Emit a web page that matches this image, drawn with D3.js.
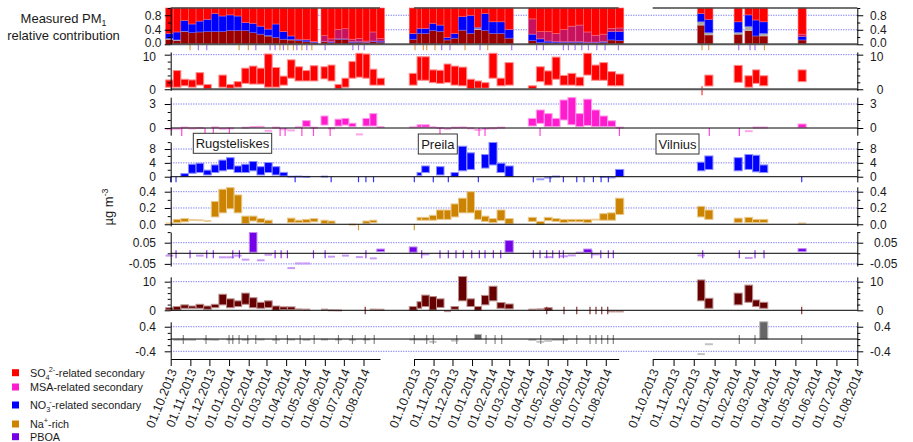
<!DOCTYPE html>
<html>
<head>
<meta charset="utf-8">
<script src="https://cdn.jsdelivr.net/npm/d3@7/dist/d3.min.js"></script>
<style>
  html, body { margin: 0; padding: 0; background: #fff; }
  svg { display: block; }
  text { font-family: "Liberation Sans", Arial, Helvetica, sans-serif; fill: #1a1a1a; }
</style>
</head>
<body>
<svg id="chart" width="913" height="442"></svg>
<script>
// ------------------------------------------------------------------
// Data: sampling periods (start, days since 1 Oct 2013) and the
// lower / upper value of every factor in each period, per station.
// ------------------------------------------------------------------
const stationNames = ["Rugsteliskes", "Preila", "Vilnius"];

const rugDay = [-8, 4, 16, 28, 40, 52, 64, 76, 88, 100, 112, 124, 136, 148, 160, 172, 184, 196, 208, 220, 237, 248, 259, 270, 281, 292, 303, 314, 325];
const preDay = [-7.5, 4.8, 12.2, 24.3, 35.7, 47.6, 58.7, 70.6, 84, 95.9, 107, 118.9, 131.6, 144.3, 181.3, 194, 206.5, 219, 231.5, 244, 256.5, 269, 281.5, 294.5, 307, 319.5];
const vilDay = [66.5, 77.5, 121, 137, 148.5, 159, 216];

// relative contribution to measured PM1 (SO4-related secondary fills the rest)
const rugTopBrown = [0.14,0.10,0.35,0.32,0.34,0.35,0.35,0.35,0.38,0.38,0.38,0.32,0.28,0.23,0.19,0.14,0.12,0.10,0.07,0.05,0.07,0.05,0.14,0.14,0.05,0.06,0.05,0.07,0.06];
const rugTopGray  = [0.02,0.02,0.01,0,0,0,0,0,0,0,0,0,0,0.01,0,0,0.01,0,0,0,0,0,0,0,0,0,0,0,0];
const rugTopNO3   = [0.14,0.22,0.30,0.24,0.30,0.34,0.50,0.43,0.43,0.40,0.22,0.26,0.22,0.18,0.37,0.21,0.10,0.04,0.05,0.02,0.01,0.02,0.01,0.01,0.02,0.02,0.01,0.02,0.03];
const rugTopMSA   = [0,0,0,0,0,0,0,0,0,0,0,0,0,0,0,0,0,0,0.01,0.01,0.16,0.08,0.26,0.28,0.07,0.08,0.03,0.25,0.07];

const preTopBrown = [0.14,0.30,0.30,0.38,0.36,0.12,0.17,0.39,0.30,0.41,0.38,0.30,0.30,0.17,0.10,0.05,0.04,0.04,0.05,0.05,0.05,0.04,0.04,0.05,0.12,0.10];
const preTopGray  = [0,0,0,0,0,0,0,0,0,0.03,0,0,0,0,0,0,0,0,0,0,0,0,0,0,0,0];
const preTopNO3   = [0.16,0.14,0.14,0.20,0.17,0.07,0.13,0.37,0.50,0.03,0.47,0.32,0.32,0.24,0.18,0.10,0.05,0.03,0.02,0.02,0.02,0.02,0.02,0.03,0.23,0.25];
const preTopMSA   = [0,0,0,0,0,0,0,0,0,0,0,0,0,0,0.42,0.20,0.26,0.23,0.34,0.43,0.46,0.28,0.19,0.20,0.09,0.10];

const vilTopBrown = [0.53,0.26,0.28,0.38,0.23,0.23,0.12];
const vilTopGray  = [0.09,0.06,0.05,0.11,0,0.07,0];
const vilTopNO3   = [0.23,0.37,0.29,0.32,0.44,0.32,0.09];
const vilTopMSA   = [0,0,0,0,0,0,0.07];

// concentration ranges [low, high] in ug m-3
const rugSO4 = [[0.6,2.7],[0.6,5.4],[1.0,2.9],[0.6,2.7],[1.2,4.8],[0.0,1.4],null,[0.6,4.1],[0.3,1.4],[0.6,2.2],[1.7,6.1],[1.5,6.7],[1.5,6.1],[0.6,10.2],[0.6,6.3],[1.2,3.8],[3.2,8.5],[2.4,6.5],[2.4,5.4],[2.4,6.8],[3.0,6.5],[2.4,7.0],[0.0,1.4],[0.6,3.2],[3.2,8.0],[3.5,10.4],[3.2,10.2],[1.2,5.8],[1.2,3.2]];
const rugMSA = [[-0.2,-0.1],[-0.15,-0.05],[0,0.1],[-0.1,0],[-0.05,0.05],null,[0,0.15],[-0.15,-0.05],[-0.1,0],null,[0,0.08],[0.05,0.2],[0.05,0.25],[-0.4,-0.3],[0,0.1],[-0.2,-0.1],[-0.35,-0.25],[0.05,0.15],[0.17,0.92],[0,0.08],[0.37,1.5],[-0.1,0],[0.25,1.1],[0.37,1.2],[0.17,0.6],[-0.85,-0.75],[0.25,1.2],[0.25,1.8],[0.05,0.2]];
const rugNO3 = [null,null,[0.05,0.9],[1.0,3.6],[1.2,3.9],[0.5,1.9],[1.2,3.4],[1.7,4.8],[2.1,5.5],[1.2,3.1],[1.2,3.6],[1.7,4.4],[0.5,2.9],[1.2,4.1],[0.5,2.9],[0.2,1.25],[-0.05,0.05],[0,0.1],[-0.1,0],null,[0,0.05],null,null,null,null,null,null,null,null];
const rugNa = [[0,0.02],[0.02,0.06],[0.03,0.07],[0.04,0.065],[0.04,0.06],[0.03,0.05],[0.09,0.28],[0.14,0.43],[0.19,0.45],[0.14,0.36],[0.01,0.1],[0.04,0.1],[0.02,0.07],[0.01,0.05],null,null,[0.02,0.075],[0.02,0.05],[0.02,0.06],[0.03,0.07],[0.01,0.05],[0.01,0.04],null,null,[-0.01,0],null,[0.01,0.04],[0.02,0.05],null];
const rugPBOA = [[-0.013,-0.009],null,null,null,[-0.013,-0.009],null,null,[-0.021,-0.017],[-0.021,-0.017],[-0.013,-0.009],[-0.032,-0.028],[0.005,0.098],[-0.035,-0.031],[-0.009,-0.005],null,null,[-0.072,-0.068],[-0.05,-0.046],[-0.05,-0.046],null,null,[-0.018,-0.014],null,[-0.013,-0.009],null,[-0.02,-0.016],null,[-0.026,-0.022],[0.008,0.02]];
const rugBrown = [[0.1,0.9],[0.1,1.3],[0.7,1.9],[0.7,1.5],[0.7,2.1],[0.35,1.5],[0.9,2.1],[1.9,5.6],[0.9,4.0],[1.3,3.3],[2.1,6.0],[0.9,4.4],[0.7,2.8],[0.9,3.3],[0,1.5],[0.2,1.2],[0.2,1.2],[0,0.7],[0,0.5],null,[0,0.5],[-0.1,0.1],[-0.1,0],null,null,null,null,[0,0.5],[0,0.4]];
const rugGray = [null,[-0.04,-0.02],[-0.04,-0.02],[-0.04,-0.02],null,[-0.03,-0.01],[-0.04,-0.02],null,[-0.03,-0.01],null,[-0.04,-0.02],null,[-0.03,-0.01],null,[-0.04,-0.02],null,[-0.03,-0.01],null,[-0.04,-0.02],null,[-0.03,-0.01],null,[-0.03,-0.01],null,[-0.04,-0.02],null,[-0.03,-0.01],null,null];

const preSO4 = [[1.2,4.6],[2.6,9.4],[2.6,9.4],[1.9,5.6],[1.7,5.5],[1.9,7.3],[1.2,6.7],[1.0,6.4],[0,2.9],[0.3,2.4],[0.3,1.9],[3.2,10.4],[1.0,3.2],[1.2,7.7],[0,1.0],[2.2,6.5],[1.2,5.3],[2.9,9.3],[1.2,4.0],[1.2,4.6],[1.0,3.5],[4.1,10.4],[2.6,7.0],[2.6,7.7],[1.0,5.1],[1.0,4.4]];
const preMSA = [[0,0.2],[0.1,0.4],[0.1,0.4],[0,0.2],[-0.05,0.05],[-0.15,-0.05],[0,0.1],[0,0.15],[-0.1,0],[-0.3,-0.2],[-0.15,-0.05],[-0.1,0],[0,0.1],null,[0.25,1.2],[0.58,2.25],[0.17,1.8],[0.17,1.2],[1.0,3.5],[0.4,3.8],[0.17,1.8],[0.3,3.6],[0.17,2.25],[0.17,1.5],[0.17,0.9],[0,0.1]];
const preNO3 = [null,[0.3,1.2],[1.2,3.1],null,[0.5,2.9],null,[0.05,1.2],[1.7,8.8],[2.1,6.9],null,[2.5,6.4],[3.4,9.9],[1.2,3.9],[0.05,3.1],null,[-0.8,-0.7],[-0.3,-0.2],[0,0.1],null,null,null,null,null,[-0.15,0],[-0.3,-0.1],[0.05,2.1]];
const preNa = [null,[0.05,0.085],[0.05,0.085],[0.05,0.11],[0.06,0.175],[0.06,0.175],[0.09,0.25],[0.14,0.32],[0.14,0.4],[0.06,0.175],[0.035,0.1],[0.02,0.07],[0.045,0.175],[0.005,0.07],[0.035,0.085],[0,0.035],[0.045,0.085],[0.035,0.07],[0.02,0.06],[0.03,0.06],[0.03,0.06],[0.02,0.06],[0.045,0.07],[0.05,0.13],[0.05,0.14],[0.12,0.32]];
const prePBOA = [[0.005,0.03],null,[-0.007,-0.003],null,null,null,null,null,null,null,null,null,null,[0.005,0.06],null,null,[-0.02,-0.016],null,[-0.016,-0.012],[-0.012,-0.008],[0,0.006],[0.004,0.02],[-0.007,-0.003],null,null,null];
const preBrown = [[0,1.3],[0.7,3.0],[1.3,5.3],[0.1,4.8],[1.0,4.0],[-0.4,-0.2],[0.35,1.3],[3.3,11.8],[1.3,4.0],[0,1.3],[1.9,5.2],[3.3,8.4],[0.7,2.7],[0.5,2.2],[0,0.5],[0,0.7],[0,0.9],null,null,null,null,null,null,null,[-0.5,-0.3],[-0.5,-0.3]];
const preGray = [[-0.03,-0.01],[-0.03,-0.01],[-0.03,-0.01],[-0.1,-0.08],null,null,[-0.06,-0.04],null,null,[0,0.15],null,null,null,null,[-0.04,-0.02],[-0.1,-0.08],[-0.07,-0.05],[-0.04,-0.02],[-0.04,-0.02],null,null,null,null,null,null,null];

const vilSO4 = [null,[0.95,4.1],[2.0,6.9],[0.6,3.9],[1.7,5.6],[1.0,3.9],[2.2,5.6]];
const vilMSA = [null,null,null,[-0.45,-0.35],[0,0.12],[0,0.12],[0.05,0.5]];
const vilNO3 = [[1.7,4.2],[2.1,6.0],[1.7,5.5],[2.1,6.4],[1.4,6.2],[1.2,3.4],null];
const vilNa = [[0.09,0.22],[0.06,0.175],[0.02,0.075],[0.02,0.085],[0.02,0.06],[0.02,0.06],[0,0.02]];
const vilPBOA = [[-0.012,-0.008],null,null,[-0.024,-0.02],null,null,[0.008,0.022]];
const vilBrown = [[3.3,10.6],[0.7,4.2],[1.9,6.0],[2.8,8.8],[1.3,3.6],[0.7,2.8],null];
const vilGray = [[-0.5,-0.48],[-0.18,-0.16],null,null,null,[0,0.56],null];

// single-sample markers (days since 1 Oct 2013)
const rugMarkTopNa   = [30.5, 107.8, 122.4, 172.2, 184.7, 193.5, 206.8, 222.5];
const rugMarkTopPBOA = [43.6, 56.8, 134.2, 156.7, 164.6, 177.7, 198.9, 214.6, 243.5, 287.2, 296.1, 305.1];
const rugMarkMSA   = [17.4, 54.1, 67.2, 92.5, 172.5, 180.4, 206.8, 225.1, 251.4];
const rugMarkNO3   = [0, 8.4, 196.2, 253, 296.1, 307.8, 319.8];
const rugMarkNa    = [296.1];
const rugMarkPBOA  = [8.4, 30.5, 56.8, 67.2, 97.9, 108.3, 164.6, 174.1, 184, 225.1, 243.5, 307.8];
const rugMarkBrown = [306.7];
const rugMarkGray  = [19.9, 55.7, 92, 97.9, 107.8, 121.5, 134.2, 166.2, 184, 204.1, 226.2, 264.5, 286.6, 306.7, 320.9];

const preMarkTopNa   = [1.6, 14.8, 20.2, 33.3, 80.9, 116.9];
const preMarkTopPBOA = [43.9, 57.1, 104.7, 154.9, 194.5, 205.1, 236.8, 244.8, 255.4, 266, 276.5, 289.8, 302.9, 324];
const preMarkMSA   = [41.2, 103.1, 112.6, 199.8, 325.6];
const preMarkNO3   = [0.5, 30.6, 54.4, 102, 189.2, 215.7, 236.8, 258, 269.6, 284.4, 296.6, 308.1];
const preMarkNa    = [0.5];
const preMarkPBOA  = [12.2, 41.2, 54.4, 66.6, 78.2, 91.5, 103.6, 112.6, 125.8, 137.5, 189.2, 199.8, 210.4, 219.9, 230.4, 236.8, 281.8, 296.1, 308.1, 316];
const preMarkBrown = [210.4, 237.8, 258, 279, 288.5, 297.6, 307.1];
const preMarkGray  = [0.5, 20.1, 30.6, 67.7, 114.2, 128.5, 139.1, 200.9, 236.8, 258, 279.1, 288.5, 297.6, 307.1, 316];

const vilMarkTopNa   = [73.3, 83.2, 166];
const vilMarkTopPBOA = [127.8, 144.6, 152];
const vilMarkSO4   = [73.3];
const vilMarkMSA   = [84.1, 128.7];
const vilMarkNO3   = [221.4];
const vilMarkPBOA  = [74.3, 128.7, 152, 165.4];
const vilMarkBrown = [221.4];
const vilMarkGray  = [128.7, 152, 221.4];

// axis ticks
const monthTicks = d3.timeMonth.range(new Date(2013, 9, 1), new Date(2014, 7, 2));
const legendLabels = [
  [["SO", ""], ["4", "sub"], ["2-", "sup"], ["-related secondary", ""]],
  [["MSA-related secondary", ""]],
  [["NO", ""], ["3", "sub"], ["-", "sup"], ["-related secondary", ""]],
  [["Na", ""], ["+", "sup"], ["-rich", ""]],
  [["PBOA", ""]]
];

// ------------------------------------------------------------------
// Layout and drawing
// ------------------------------------------------------------------
const season0 = new Date(2013, 9, 1);
const toDate = d => new Date(season0.getTime() + d * 864e5);
const svg = d3.select("#chart");
const X_LEFT = 170.7, X_RIGHT = 857.3, X_AXIS_Y = 359;
const TICK_FONT = 12;

const COLORS = { so4: "#ff0000", msa: "#ff1ccf", no3: "#0000ff", na: "#cc8400", pboa: "#7300e6", brown: "#660000", gray: "#666666" };
const TOPCOLORS = { brown: "#9a0000", gray: "#a8a8a8", no3: "#0000ff", msa: "#c8125e", so4: "#ff0000" };
const light = (c, t) => d3.interpolateRgb(c, "#ffffff")(t);

const stations = [
  { name: stationNames[0], days: rugDay, span: 12, end: new Date(2014, 7, 27), range: [X_LEFT, 380], box: [193.3, 133.3, 78.4],
    top: { brown: rugTopBrown, gray: rugTopGray, no3: rugTopNO3, msa: rugTopMSA },
    series: { so4: rugSO4, msa: rugMSA, no3: rugNO3, na: rugNa, pboa: rugPBOA, brown: rugBrown, gray: rugGray },
    marks: { topNa: rugMarkTopNa, topPBOA: rugMarkTopPBOA, msa: rugMarkMSA, no3: rugMarkNO3, na: rugMarkNa, pboa: rugMarkPBOA, brown: rugMarkBrown, gray: rugMarkGray } },
  { name: stationNames[1], days: preDay, span: 13, end: new Date(2014, 7, 21, 12), range: [414, 618.7], box: [418.3, 134, 39],
    top: { brown: preTopBrown, gray: preTopGray, no3: preTopNO3, msa: preTopMSA },
    series: { so4: preSO4, msa: preMSA, no3: preNO3, na: preNa, pboa: prePBOA, brown: preBrown, gray: preGray },
    marks: { topNa: preMarkTopNa, topPBOA: preMarkTopPBOA, msa: preMarkMSA, no3: preMarkNO3, na: preMarkNa, pboa: preMarkPBOA, brown: preMarkBrown, gray: preMarkGray } },
  { name: stationNames[2], days: vilDay, span: 12, end: new Date(2014, 7, 1), range: [652.7, X_RIGHT], box: [656, 134, 43],
    top: { brown: vilTopBrown, gray: vilTopGray, no3: vilTopNO3, msa: vilTopMSA },
    series: { so4: vilSO4, msa: vilMSA, no3: vilNO3, na: vilNa, pboa: vilPBOA, brown: vilBrown, gray: vilGray },
    marks: { topNa: vilMarkTopNa, topPBOA: vilMarkTopPBOA, so4: vilMarkSO4, msa: vilMarkMSA, no3: vilMarkNO3, pboa: vilMarkPBOA, brown: vilMarkBrown, gray: vilMarkGray } }
];
stations.forEach(st => {
  st.x = d3.scaleTime().domain([season0, st.end]).range(st.range);
  st.periods = st.days.map((d, i) => {
    const next = i < st.days.length - 1 ? st.days[i + 1] : Infinity;
    return [d, Math.min(next, d + st.span)];
  });
});

const f1 = d => d.toFixed(1), f0 = d => String(d), f2 = d => d.toFixed(2);
const panels = [
  { key: "top",   dom: [0, 1],        rng: [44.3, 8],     major: [0, 0.4, 0.8],  minor: [0.2, 0.6, 1],   grid: [0.4, 0.8],    fmt: f1, padL: 3.2, mark: [0, 6], zeroW: 2, zeroC: "#555", lift: -1.7 },
  { key: "so4",   dom: [-0.3, 10.8],  rng: [90.3, 51.9],  major: [0, 10],        minor: [2, 4, 6, 8],    grid: [10],          fmt: f0, padL: 8.7, mark: [-3, 6], zeroW: 2, zeroC: "#555", lift: 1.7 },
  { key: "msa",   dom: [-0.9, 3.85],  rng: [135.2, 97.2], major: [0, 3],         minor: [1, 2],          grid: [3],           fmt: f0, padL: 8.7, mark: [0, 8] },
  { key: "no3",   dom: [-1.5, 10],    rng: [181.9, 142.1],major: [0, 4, 8],      minor: [2, 6, 10],      grid: [4, 8],        fmt: f0, padL: 8.7, mark: [0, 5.5] },
  { key: "na",    dom: [-0.02, 0.46], rng: [225.9, 186.8],major: [0, 0.2, 0.4],  minor: [0.1, 0.3],      grid: [0.2, 0.4],    fmt: f1, padL: 8.7, mark: [0, 6] },
  { key: "pboa",  dom: [-0.06, 0.1],  rng: [266, 232.1],  major: [-0.05, 0.05],  minor: [0, 0.1],        grid: [-0.05, 0.05], fmt: f2, padL: 8.7, mark: [-3, 5] },
  { key: "brown", dom: [0, 11.7],     rng: [310.3, 276.8],major: [0, 10],        minor: [2, 4, 6, 8],    grid: [10],          fmt: f0, padL: 8.7, mark: [-3.5, 4] },
  { key: "gray",  dom: [-0.63, 0.56], rng: [358.4, 321.8],major: [-0.4, 0.4],    minor: [-0.2, 0, 0.2],  grid: [-0.4, 0.4],   fmt: f1, padL: 8.7, mark: [-4, 5] }
];
panels.forEach(p => p.y = d3.scaleLinear().domain(p.dom).range(p.rng));

const gGrid = svg.append("g"), gBoxes = svg.append("g"), gMarks = svg.append("g"), gZero = svg.append("g"), gAxes = svg.append("g");

// dotted reference lines
panels.forEach(p => {
  gGrid.selectAll(null).data(p.grid).join("line")
    .attr("x1", X_LEFT).attr("x2", X_RIGHT)
    .attr("y1", d => p.y(d)).attr("y2", d => p.y(d))
    .attr("stroke", "#6f6ff5").attr("stroke-width", 1).attr("stroke-dasharray", "1.2,1.3");
});

// stacked relative contributions
const topP = panels[0];
stations.forEach(st => {
  const segs = [];
  st.periods.forEach((per, i) => {
    let acc = 0;
    ["brown", "gray", "no3", "msa"].forEach(k => {
      const v = st.top[k][i] || 0;
      if (v > 0) segs.push({ per, k, lo: acc, hi: acc + v });
      acc += v;
    });
    segs.push({ per, k: "so4", lo: acc, hi: 1 });
  });
  gBoxes.append("g").selectAll("rect").data(segs).join("rect")
    .attr("x", d => st.x(toDate(d.per[0])))
    .attr("width", d => st.x(toDate(d.per[1])) - st.x(toDate(d.per[0])))
    .attr("y", d => topP.y(d.hi))
    .attr("height", d => topP.y(d.lo) - topP.y(d.hi))
    .attr("fill", d => TOPCOLORS[d.k])
    .attr("stroke", d => light(TOPCOLORS[d.k], 0.4)).attr("stroke-width", 0.6);
  // frame line along the top of the stack
  gAxes.append("line").attr("x1", st.range[0]).attr("x2", st.range[1])
    .attr("y1", topP.y(1)).attr("y2", topP.y(1)).attr("stroke", "#444").attr("stroke-width", 1.4);
});

// per-factor concentration ranges
panels.slice(1).forEach(p => {
  const col = COLORS[p.key];
  stations.forEach(st => {
    const items = st.series[p.key].map((v, i) => v ? { lo: v[0], hi: v[1], per: st.periods[i] } : null).filter(Boolean);
    const g = gBoxes.append("g");
    items.forEach(d => {
      const x0 = st.x(toDate(d.per[0])), x1 = st.x(toDate(d.per[1]));
      const yt = p.y(d.hi), yb = p.y(d.lo), h = yb - yt;
      if (h < 2.2) {
        g.append("rect").attr("x", x0).attr("width", x1 - x0).attr("y", (yt + yb) / 2 - 1).attr("height", 2)
          .attr("fill", light(col, 0.6));
      } else {
        g.append("rect").attr("x", x0).attr("width", x1 - x0).attr("y", yt).attr("height", h)
          .attr("fill", col).attr("stroke", light(col, 0.55)).attr("stroke-width", 1);
      }
    });
  });
});

// single-sample markers
function drawMarks(st, days, p, color) {
  if (!days) return;
  const y0 = p.y(0);
  gMarks.selectAll(null).data(days).join("line")
    .attr("x1", d => st.x(toDate(d))).attr("x2", d => st.x(toDate(d)))
    .attr("y1", y0 + p.mark[0]).attr("y2", y0 + p.mark[1])
    .attr("stroke", color).attr("stroke-width", 1.2);
}
stations.forEach(st => {
  drawMarks(st, st.marks.topNa, topP, "#dca050");
  drawMarks(st, st.marks.topPBOA, topP, "#a875f0");
  panels.slice(1).forEach(p => drawMarks(st, st.marks[p.key], p, light(COLORS[p.key], 0.2)));
});

// zero lines
panels.forEach(p => {
  gZero.append("line").attr("x1", X_LEFT).attr("x2", X_RIGHT)
    .attr("y1", p.y(0)).attr("y2", p.y(0))
    .attr("stroke", p.zeroC || "#000").attr("stroke-width", p.zeroW || 1);
});

// y axes on both sides
function styleAxis(g, size) {
  g.attr("font-family", null).attr("font-size", null);
  g.selectAll("path,line").attr("stroke", "#000");
  g.selectAll("text").attr("font-size", size).attr("fill", "#1a1a1a");
}
panels.forEach(p => {
  const gl = gAxes.append("g").attr("transform", `translate(${X_LEFT},0)`);
  gl.call(d3.axisLeft(p.y).tickValues(p.major).tickSize(6).tickSizeOuter(0).tickPadding(p.padL).tickFormat(p.fmt));
  gl.append("g").call(d3.axisLeft(p.y).tickValues(p.minor).tickSize(3).tickFormat("")).select(".domain").remove();
  styleAxis(gl, TICK_FONT);

  const gr = gAxes.append("g").attr("transform", `translate(${X_RIGHT},0)`);
  gr.call(d3.axisRight(p.y).tickValues(p.major).tickSize(6).tickSizeOuter(0).tickPadding(6).tickFormat(p.fmt));
  gr.append("g").call(d3.axisRight(p.y).tickValues(p.minor).tickSize(3).tickFormat("")).select(".domain").remove();
  styleAxis(gr, TICK_FONT);
  const labels = gr.selectAll(".tick text");
  const wMax = d3.max(labels.nodes(), n => n.getComputedTextLength());
  labels.attr("text-anchor", "end").attr("x", 870 - X_RIGHT + wMax);

  // keep the labels of neighbouring panels apart at the shared edge
  if (p.lift) {
    const edge = p.lift < 0 ? p.dom[0] : p.major[p.major.length - 1];
    [gl, gr].forEach(g => g.selectAll(".tick").filter(d => d === edge).select("text").attr("y", p.lift));
  }
});

// time axes
stations.forEach(st => {
  const g = gAxes.append("g").attr("transform", `translate(0,${X_AXIS_Y})`);
  g.call(d3.axisBottom(st.x).tickValues(monthTicks).tickSize(7).tickSizeOuter(0).tickFormat(d3.timeFormat("%d.%m.%Y")));
  styleAxis(g, 12.5);
  g.selectAll(".tick text")
    .attr("text-anchor", "end")
    .attr("x", 0).attr("y", 0).attr("dy", 0)
    .attr("transform", "translate(6,12) rotate(-68)");
});

// station names
stations.forEach(st => {
  const [bx, by, bw] = st.box;
  const g = svg.append("g");
  g.append("rect").attr("x", bx).attr("y", by).attr("width", bw).attr("height", 20)
    .attr("fill", "#fff").attr("stroke", "#333").attr("stroke-width", 1);
  g.append("text").attr("x", bx + bw / 2).attr("y", by + 14.5).attr("text-anchor", "middle")
    .attr("font-size", 13).text(st.name);
});

// rich text helper for sub/superscripts
function richText(sel, parts, size) {
  let shift = 0, prev = "";
  parts.forEach(([t, kind]) => {
    const target = kind === "sub" ? size * 0.28 : kind === "sup" ? -size * 0.42 : 0;
    const ts = sel.append("tspan").text(t).attr("dy", target - shift);
    if (kind) ts.attr("font-size", size * 0.68);
    if (kind === "sup" && prev === "sub") ts.attr("dx", -1);
    shift = target; prev = kind;
  });
}

// panel title
const title = svg.append("text").attr("x", 63.5).attr("y", 22.5).attr("text-anchor", "middle").attr("font-size", 13);
richText(title, [["Measured PM", ""], ["1", "sub"]], 13);
svg.append("text").attr("x", 63.5).attr("y", 39.5).attr("text-anchor", "middle").attr("font-size", 13).text("relative contribution");

// unit label
const unit = svg.append("text").attr("transform", "translate(113,207) rotate(-90)").attr("text-anchor", "middle").attr("font-size", 13);
richText(unit, [["\u00b5g m", ""], ["-3", "sup"]], 13);

// legend
const legendKeys = ["so4", "msa", "no3", "na", "pboa"];
const legendY = [372.7, 387, 405, 424, 436.7];
legendKeys.forEach((k, i) => {
  svg.append("rect").attr("x", 12).attr("y", legendY[i] - 3.5).attr("width", 7).attr("height", 7).attr("fill", COLORS[k]);
  const t = svg.append("text").attr("x", 30).attr("y", legendY[i] + 3.8).attr("font-size", 10.8);
  richText(t, legendLabels[i], 10.8);
});
</script>
</body>
</html>
